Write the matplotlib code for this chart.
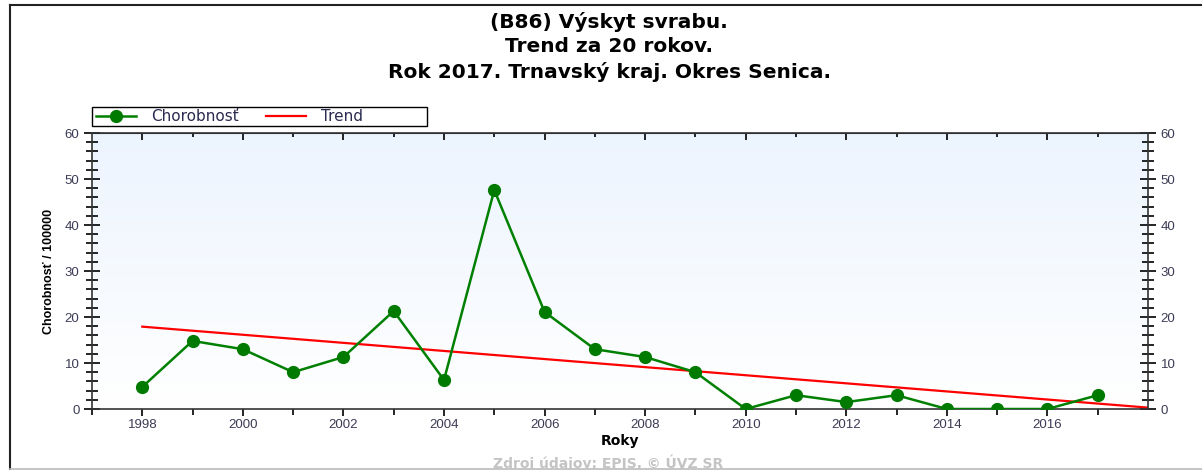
import numpy as np
import matplotlib.pyplot as plt
from matplotlib.lines import Line2D
from matplotlib.patches import Rectangle
from matplotlib.colors import LinearSegmentedColormap
from matplotlib.ticker import MultipleLocator, FixedLocator

years = [1998, 1999, 2000, 2001, 2002, 2003, 2004, 2005, 2006, 2007,
         2008, 2009, 2010, 2011, 2012, 2013, 2014, 2015, 2016, 2017]
chorobnost = [4.8, 14.8, 13.0, 8.0, 11.3, 21.3, 6.3, 47.6, 21.1, 13.0,
              11.3, 8.0, 0.0, 3.0, 1.5, 3.0, 0.0, 0.0, 0.0, 3.0]
trend_years = [1998, 2018]
trend_vals = [17.9, 0.3]
xtick_years = [1998, 2000, 2002, 2004, 2006, 2008, 2010, 2012, 2014, 2016]

titles = ['(B86) Výskyt svrabu.', 'Trend za 20 rokov.',
          'Rok 2017. Trnavský kraj. Okres Senica.']

plt.rcParams['font.family'] = ['Liberation Sans', 'DejaVu Sans']

fig = plt.figure(figsize=(12.02, 4.70), dpi=100)
W, H = 1202, 470
ax = fig.add_axes([92 / W, (H - 409) / H, (1148 - 92) / W, (409 - 133) / H])

# frame lines of the whole picture
fig.add_artist(Line2D([10 / W, 10 / W], [0, (H - 5) / H], color='#222222', lw=1.5))
fig.add_artist(Line2D([10 / W, 1], [(H - 5) / H, (H - 5) / H], color='#222222', lw=1.5))
fig.add_artist(Line2D([10 / W, 1], [1.5 / H, 1.5 / H], color='#bbbbbb', lw=1.2))

# light gradient background
grad = np.linspace(0, 1, 256).reshape(-1, 1)
cmap = LinearSegmentedColormap.from_list('bg', ['#ffffff', '#ecf4fe'])
ax.imshow(grad, extent=[1997, 2018, 0, 60], aspect='auto', origin='lower',
          cmap=cmap, zorder=0)

ax.plot(trend_years, trend_vals, color='#ff0000', lw=1.6, zorder=2, label='Trend')
ax.plot(years, chorobnost, color='#008000', lw=1.8, marker='o', ms=8.5,
        mfc='#007a00', mec='#007a00', zorder=3, label='Chorobnosť')

ax.set_xlim(1997, 2018)
ax.set_ylim(0, 60)

tick_col = '#3b3b55'
ax.xaxis.set_major_locator(FixedLocator(xtick_years))
ax.xaxis.set_minor_locator(FixedLocator(years[1::2] + [1997]))
ax.yaxis.set_major_locator(MultipleLocator(10))
ax.yaxis.set_minor_locator(MultipleLocator(2))
ax.tick_params(axis='x', which='both', direction='out', labelsize=9.5,
               labelcolor=tick_col, width=1.2, pad=2)
ax.tick_params(axis='x', which='major', length=5)
ax.tick_params(axis='x', which='minor', length=4)
ax.tick_params(axis='y', which='both', direction='inout', right=True, labelright=True,
               labelsize=9.5, labelcolor=tick_col, width=1.2)
ax.tick_params(axis='y', which='major', length=12, pad=3)
ax.tick_params(axis='y', which='minor', length=8)

# top axis ticks point into the plot
top = ax.secondary_xaxis('top')
top.xaxis.set_major_locator(FixedLocator(xtick_years))
top.xaxis.set_minor_locator(FixedLocator(years[1::2]))
top.tick_params(which='both', direction='in', labeltop=False, width=1.2)
top.tick_params(which='major', length=5)
top.tick_params(which='minor', length=3)
top.spines['top'].set_color('#333333')

for s in ax.spines.values():
    s.set_color('#333333')
    s.set_linewidth(1.2)

ax.set_xlabel('Roky', fontsize=10, fontweight='bold', labelpad=2,
              family=['DejaVu Sans'])
ax.set_ylabel('Chorobnosť / 100000', fontsize=9,
              fontweight='bold', labelpad=7,
              family=['Liberation Sans Narrow', 'Liberation Sans', 'DejaVu Sans'])

for i, t in enumerate(titles):
    fig.text(609 / W, 1 - (22 + 25 * i) / H, t, ha='center', va='center',
             fontsize=14.5, fontweight='bold', family=['DejaVu Sans'])

fig.text(608 / W, 1 - 463 / H, 'Zdroj údajov: EPIS, © ÚVZ SR', ha='center',
         va='center', fontsize=10, fontweight='bold', color='#c4c4c4',
         family=['DejaVu Sans'])

# legend with its own frame box
y0 = (409 - 126) / 276
y1 = (409 - 107) / 276
ax.add_patch(Rectangle((0, y0), 335 / 1056, y1 - y0, transform=ax.transAxes,
                       fill=True, facecolor='white', edgecolor='black',
                       lw=1.0, clip_on=False, zorder=5))
h, l = ax.get_legend_handles_labels()
leg = ax.legend(h[::-1], l[::-1], ncol=2, loc='center left',
                bbox_to_anchor=(0.004, (y0 + y1) / 2), frameon=False,
                prop={'family': 'DejaVu Sans', 'size': 11},
                borderpad=0, handlelength=2.6, handletextpad=1.0,
                columnspacing=1.8, borderaxespad=0)
leg.set_zorder(6)
for t in leg.get_texts():
    t.set_color('#2a2a50')

fig.savefig('out.png', dpi=100)
